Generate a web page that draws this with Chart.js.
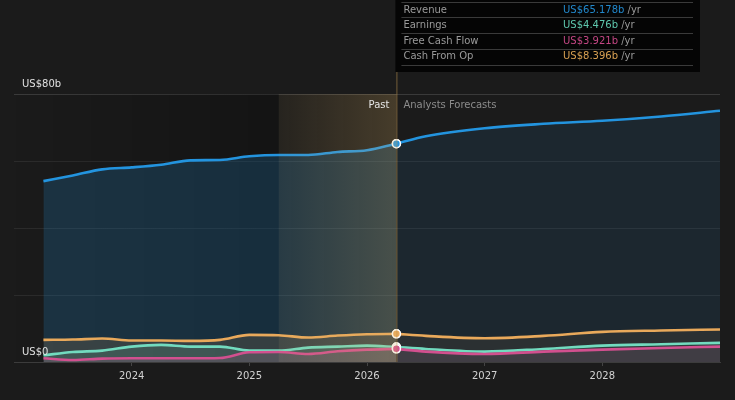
<!DOCTYPE html>
<html>
<head>
<meta charset="utf-8">
<script src="https://cdn.jsdelivr.net/npm/chart.js@4.4.1/dist/chart.umd.min.js"></script>
<style>
  html, body { margin: 0; padding: 0; background: #1b1b1b; }
  #wrap { width: 735px; height: 400px; }
</style>
</head>
<body>
<div id="wrap"><canvas id="chart" width="735" height="400"></canvas></div>
<script>
// quarter ends as decimal years
const pastX = [2023.25, 2023.5, 2023.75, 2024.0, 2024.25, 2024.5, 2024.75, 2025.0, 2025.25, 2025.5, 2025.75, 2026.0, 2026.25];
const fcstX = [2026.25, 2026.5, 2027.0, 2027.5, 2028.0, 2028.5, 2029.0];

const revenuePast = [54.0, 55.7, 57.5, 58.1, 58.9, 60.2, 60.3, 61.4, 61.8, 61.8, 62.7, 63.2, 65.178];
const revenueFcst = [65.178, 67.4, 69.8, 71.1, 72.0, 73.3, 75.0];

const earningsPast = [2.0, 3.0, 3.4, 4.6, 5.1, 4.6, 4.6, 3.4, 3.4, 4.3, 4.6, 4.9, 4.476];
const earningsFcst = [4.476, 3.9, 3.1, 3.9, 4.9, 5.3, 5.7];

const fcfPast = [1.1, 0.6, 1.0, 1.1, 1.1, 1.1, 1.2, 2.9, 3.0, 2.4, 3.2, 3.7, 3.921];
const fcfFcst = [3.921, 3.1, 2.4, 3.1, 3.7, 4.2, 4.6];

const cashOpPast = [6.6, 6.7, 7.0, 6.4, 6.4, 6.3, 6.6, 8.1, 8.0, 7.3, 7.9, 8.3, 8.396];
const cashOpFcst = [8.396, 7.8, 7.1, 7.8, 9.0, 9.4, 9.7];

const yearTicks = [2024, 2025, 2026, 2027, 2028];
const yLabels = [0, 80];
const presentX = 2026.25;
const pastBandStart = 2025.25;

const seriesInfo = [
  { name: 'Revenue', value: 'US$65.178b', color: '#2394df', text: '#2288cc' },
  { name: 'Earnings', value: 'US$4.476b', color: '#72dbbf', text: '#5fc8ae' },
  { name: 'Free Cash Flow', value: 'US$3.921b', color: '#d2508f', text: '#c44683' },
  { name: 'Cash From Op', value: 'US$8.396b', color: '#e9a95b', text: '#d8a052' },
];

const FONT = 'DejaVu Sans';

function pts(xs, ys) {
  return xs.map((x, i) => ({ x, y: ys[i] }));
}

function hexA(hex, a) {
  const n = parseInt(hex.slice(1), 16);
  return `rgba(${(n >> 16) & 255}, ${(n >> 8) & 255}, ${n & 255}, ${a})`;
}

function lineSet(data, color, fillAlpha) {
  return {
    data,
    borderColor: color,
    backgroundColor: hexA(color, fillAlpha),
    borderWidth: 2.6,
    fill: 'origin',
    cubicInterpolationMode: 'monotone',
    pointRadius: ctx => (ctx.raw && ctx.raw.x === presentX ? 4 : 0),
    pointBackgroundColor: color,
    pointBorderColor: '#ffffff',
    pointBorderWidth: 1.5,
    pointHoverRadius: 0,
  };
}

const [rev, earn, fcf, cash] = seriesInfo;

// listed top-first: first dataset is drawn last
const datasets = [
  lineSet(pts(fcstX, fcfFcst), fcf.color, 0.1),
  lineSet(pts(pastX, fcfPast), fcf.color, 0.14),
  lineSet(pts(fcstX, earningsFcst), earn.color, 0.08),
  lineSet(pts(pastX, earningsPast), earn.color, 0.14),
  lineSet(pts(fcstX, cashOpFcst), cash.color, 0.08),
  lineSet(pts(pastX, cashOpPast), cash.color, 0.14),
  lineSet(pts(fcstX, revenueFcst), rev.color, 0.1),
  lineSet(pts(pastX, revenuePast), rev.color, 0.2),
];

const backdrop = {
  id: 'backdrop',
  beforeDatasetsDraw(chart) {
    const { ctx, chartArea: a, scales: { x } } = chart;
    const x0 = x.getPixelForValue(x.min);
    const x1 = x.getPixelForValue(pastBandStart);
    const g = ctx.createLinearGradient(x0, 0, x1, 0);
    g.addColorStop(0, 'rgba(0,0,0,0)');
    g.addColorStop(1, 'rgba(0,0,0,0.25)');
    ctx.save();
    ctx.fillStyle = g;
    ctx.fillRect(x0, a.top, x1 - x0, a.bottom - a.top);
    ctx.restore();
  },
  afterDatasetsDraw(chart) {
    const { ctx, chartArea: a, scales: { x, y } } = chart;
    const x1 = x.getPixelForValue(pastBandStart);
    const x2 = x.getPixelForValue(presentX);
    ctx.save();
    const g = ctx.createLinearGradient(x1, 0, x2, 0);
    g.addColorStop(0, 'rgba(225,180,100,0.06)');
    g.addColorStop(1, 'rgba(225,180,100,0.22)');
    ctx.fillStyle = g;
    ctx.fillRect(x1, a.top, x2 - x1, a.bottom - a.top);

    // present marker line
    ctx.strokeStyle = 'rgba(190,150,80,0.55)';
    ctx.lineWidth = 1;
    ctx.beginPath();
    ctx.moveTo(x2 + 0.5, 0);
    ctx.lineTo(x2 + 0.5, a.bottom);
    ctx.stroke();

    ctx.font = `10px "${FONT}"`;
    ctx.textBaseline = 'middle';
    ctx.textAlign = 'right';
    ctx.fillStyle = '#e6e6e6';
    ctx.fillText('Past', x2 - 7, a.top + 11);
    ctx.textAlign = 'left';
    ctx.fillStyle = '#8c8c8c';
    ctx.fillText('Analysts Forecasts', x2 + 7, a.top + 11);

    // y labels sit above their gridlines
    ctx.fillStyle = '#e0e0e0';
    yLabels.forEach(v => {
      const txt = v === 0 ? 'US$0' : `US$${v}b`;
      ctx.fillText(txt, a.left + 8, y.getPixelForValue(v) - 10);
    });
    ctx.restore();
  },
  afterDraw(chart) {
    const { ctx, scales: { x } } = chart;
    const bx = x.getPixelForValue(presentX) - 1;
    const bw = 700 - bx;
    ctx.save();
    ctx.fillStyle = '#050505';
    ctx.fillRect(bx, -2, bw, 74);
    ctx.strokeStyle = '#3a3a3a';
    ctx.lineWidth = 1;
    [2.5, 17.5, 33.5, 49.5, 65.5].forEach(ly => {
      ctx.beginPath();
      ctx.moveTo(bx + 6, ly);
      ctx.lineTo(bx + bw - 7, ly);
      ctx.stroke();
    });
    ctx.font = `10px "${FONT}"`;
    ctx.textBaseline = 'middle';
    ctx.textAlign = 'left';
    seriesInfo.forEach((s, i) => {
      const ty = 10 + i * 15.6;
      ctx.fillStyle = '#9a9a9a';
      ctx.fillText(s.name, bx + 8, ty);
      ctx.fillStyle = s.text;
      ctx.fillText(s.value, 563, ty);
      const w = ctx.measureText(s.value).width;
      ctx.fillStyle = '#9a9a9a';
      ctx.fillText(' /yr', 563 + w, ty);
    });
    ctx.restore();
  },
};

new Chart(document.getElementById('chart'), {
  type: 'line',
  data: { datasets },
  options: {
    responsive: false,
    animation: false,
    events: [],
    layout: { padding: { left: 14, right: 15, top: 94, bottom: 14 } },
    plugins: { legend: { display: false }, tooltip: { enabled: false } },
    scales: {
      x: {
        type: 'linear',
        min: 2023,
        max: 2029,
        afterBuildTicks: s => { s.ticks = yearTicks.map(v => ({ value: v })); },
        ticks: {
          color: '#d2d2d2',
          font: { family: FONT, size: 10 },
          padding: 4,
          maxRotation: 0,
          callback: v => String(v),
        },
        grid: { drawOnChartArea: false, drawTicks: true, tickLength: 4, color: '#444444' },
        border: { display: true, color: '#3c3c3c' },
      },
      y: {
        min: 0,
        max: 80,
        ticks: { display: false, stepSize: 20 },
        grid: {
          drawTicks: false,
          color: ctx => (ctx.tick && ctx.tick.value === 80 ? '#3a3a3a' : '#2b2b2b'),
        },
        border: { display: false },
      },
    },
  },
  plugins: [backdrop],
});
</script>
</body>
</html>
